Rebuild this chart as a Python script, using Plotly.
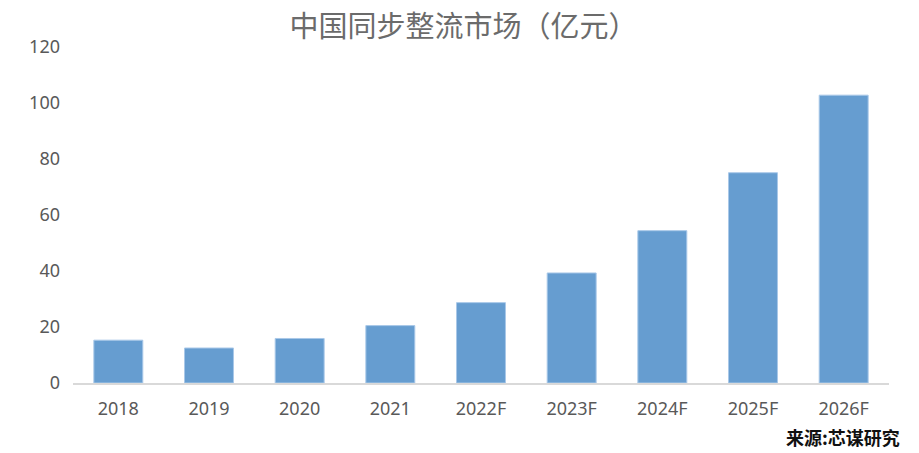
"""
China synchronous rectifier market bar chart
"""

import plotly.graph_objects as go

# categories and values (100 million yuan)
years = ['2018', '2019', '2020', '2021', '2022F', '2023F', '2024F', '2025F', '2026F']
market = [15.3, 12.5, 15.9, 20.5, 28.7, 39.3, 54.4, 75.1, 102.8]
y_ticks = [0, 20, 40, 60, 80, 100, 120]

title_text = '中国同步整流市场（亿元）'
source_text = '来源:芯谋研究'

fig = go.Figure()
fig.add_trace(go.Bar(
    x=years, y=market,
    marker=dict(color='#669DD0', line=dict(color='#A9C8E8', width=1)),
))

# page body adds 8px margin, so the figure is 8px smaller each way
fig.update_layout(
    width=911, height=445,
    margin=dict(l=65, r=30, t=39, b=70),
    paper_bgcolor='white', plot_bgcolor='white',
    bargap=0.46,
    showlegend=False,
    font=dict(family='Noto Sans, Noto Sans CJK SC', color='#595959', size=18),
    title=dict(text=title_text, x=0.5, xanchor='center', y=0.958, yanchor='middle',
               font=dict(family='Noto Sans CJK SC', size=29, color='#6b6b6b')),
)

fig.update_xaxes(showline=True, linecolor='#D9D9D9', linewidth=1.5,
                 ticks='', showgrid=False, ticklabelstandoff=9)
fig.update_yaxes(range=[0, 120], tickvals=y_ticks, showgrid=False, zeroline=False,
                 showline=False, ticks='', ticklabelstandoff=12)

fig.add_annotation(text=source_text, xref='paper', yref='paper', x=1.016, y=-0.161,
                   xanchor='right', yanchor='middle', showarrow=False,
                   font=dict(family='Noto Sans CJK SC', size=18, color='#111111', weight='bold'))

fig.write_html("out.html")
